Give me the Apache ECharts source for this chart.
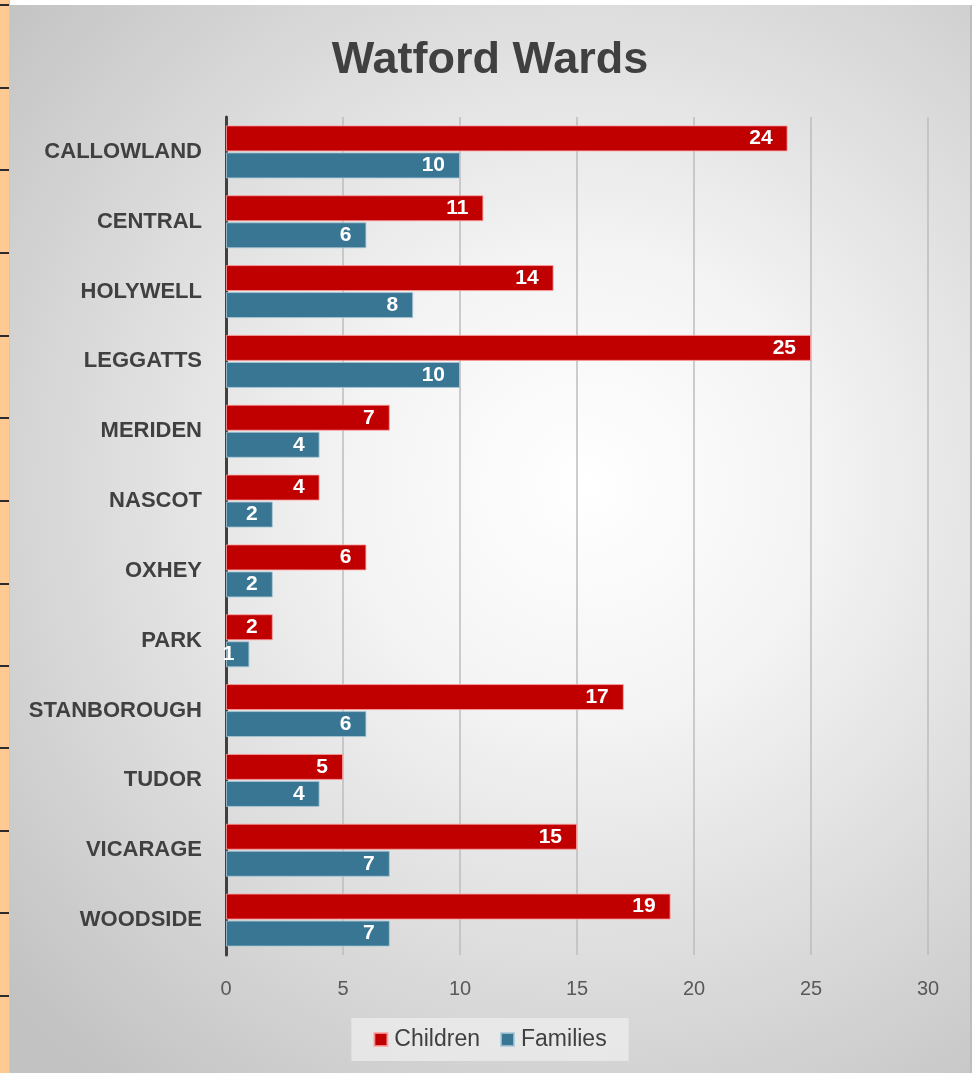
<!DOCTYPE html>
<html>
<head>
<meta charset="utf-8">
<script src="https://cdn.jsdelivr.net/npm/echarts@6/dist/echarts.min.js"></script>
<style>
html,body{margin:0;padding:0;width:972px;height:1073px;background:#ffffff;overflow:hidden;}
#strip{position:absolute;left:0;top:0;width:9px;height:1073px;background:#FFC993;border-right:1px solid #c8c8c8;}
.rl{position:absolute;left:0;width:9px;height:2px;background:#2b2b2b;}
#chart{position:absolute;left:10px;top:5px;width:960px;height:1068px;border-right:2px solid #bdbdbd;}
</style>
</head>
<body>
<div id="strip"></div>
<div id="chart"></div>
<script>
const categories = ['CALLOWLAND','CENTRAL','HOLYWELL','LEGGATTS','MERIDEN','NASCOT','OXHEY','PARK','STANBOROUGH','TUDOR','VICARAGE','WOODSIDE'];
const children = [24, 11, 14, 25, 7, 4, 6, 2, 17, 5, 15, 19];
const families = [10, 6, 8, 10, 4, 2, 2, 1, 6, 4, 7, 7];
const rowLines = [5, 88, 170, 253, 336, 418, 501, 584, 666, 748, 831, 913, 996];

rowLines.forEach(function (y) {
  const d = document.createElement('div');
  d.className = 'rl';
  d.style.top = (y - 1) + 'px';
  document.body.appendChild(d);
});

const chart = echarts.init(document.getElementById('chart'));
const labelStyle = {
  show: true,
  position: 'insideRight',
  distance: 15,
  color: '#ffffff',
  fontWeight: 'bold',
  fontSize: 21,
  fontFamily: 'Liberation Sans, Arial, sans-serif'
};
chart.setOption({
  backgroundColor: {
    type: 'radial', x: 0.6, y: 0.45, r: 0.8,
    colorStops: [
      {offset: 0, color: '#ffffff'},
      {offset: 0.3, color: '#f4f4f4'},
      {offset: 1, color: '#c2c2c2'}
    ]
  },
  animation: false,
  title: {
    text: 'Watford Wards',
    left: 'center',
    top: 28,
    textStyle: {fontSize: 45, fontWeight: 'bold', color: '#404040', fontFamily: 'Liberation Sans, Arial, sans-serif'}
  },
  legend: {
    data: ['Children', 'Families'],
    top: 1013,
    left: 'center',
    icon: 'rect',
    itemWidth: 13,
    itemHeight: 13,
    itemGap: 20,
    padding: [10, 22, 10, 22],
    backgroundColor: 'rgba(240,240,240,0.7)',
    textStyle: {fontSize: 23, color: '#404040', padding: [0, 0, 0, 2], fontFamily: 'Liberation Sans, Arial, sans-serif'}
  },
  grid: {left: 216, right: 42, top: 112, bottom: 118, containLabel: false},
  xAxis: {
    type: 'value',
    min: 0, max: 30, interval: 5,
    axisLine: {show: false},
    axisTick: {show: false},
    axisLabel: {margin: 24, fontSize: 20, color: '#595959', fontFamily: 'Liberation Sans, Arial, sans-serif'},
    splitLine: {show: true, lineStyle: {color: '#bcbcbc', width: 1.5}}
  },
  yAxis: {
    type: 'category',
    data: categories,
    inverse: true,
    axisLine: {show: true, lineStyle: {color: '#404040', width: 3}},
    axisTick: {show: false},
    axisLabel: {margin: 24, fontSize: 22, fontWeight: 'bold', color: '#404040', fontFamily: 'Liberation Sans, Arial, sans-serif'}
  },
  series: [
    {
      name: 'Children', type: 'bar', data: children,
      barWidth: 26, barGap: '4%', barCategoryGap: '26%',
      itemStyle: {color: '#C00000', borderColor: 'rgba(255,160,160,0.8)', borderWidth: 1},
      label: labelStyle
    },
    {
      name: 'Families', type: 'bar', data: families,
      barWidth: 26, barGap: '4%',
      itemStyle: {color: '#387693', borderColor: 'rgba(170,200,215,0.8)', borderWidth: 1},
      label: labelStyle
    }
  ]
});
</script>
</body>
</html>
